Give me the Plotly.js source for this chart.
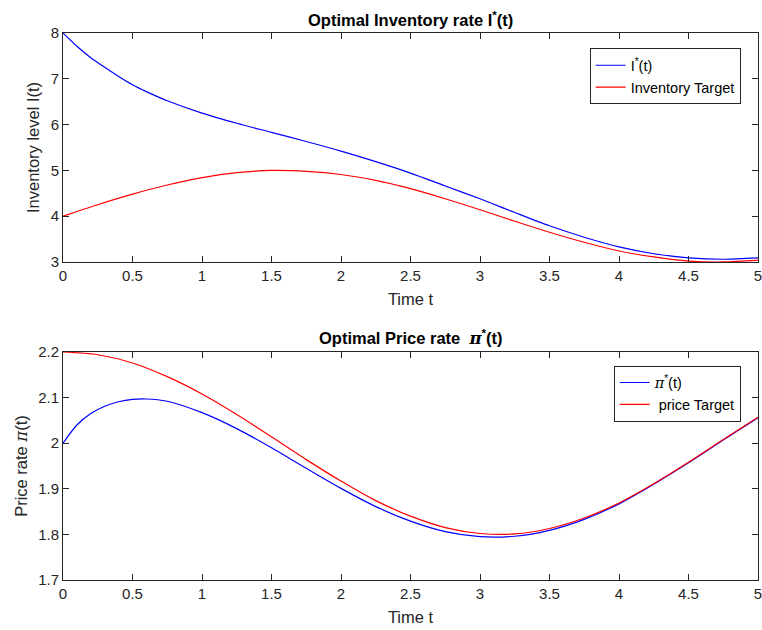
<!DOCTYPE html>
<html>
<head>
<meta charset="utf-8">
<script src="https://cdn.plot.ly/plotly-3.0.1.min.js"></script>
<style>html,body{margin:0;padding:0;background:#fff;}#chart{width:762px;height:630px;}</style>
</head>
<body>
<div id="chart"></div>
<script>
// Top subplot: inventory
const tInv = [0, 0.1, 0.2, 0.3, 0.4, 0.5, 0.6, 0.75, 1.0, 1.25, 1.5, 1.75, 2.0, 2.25, 2.5, 2.75, 3.0, 3.25, 3.5, 3.75, 4.0, 4.25, 4.5, 4.75, 5.0];
const invOptimal = [8.00, 7.71, 7.46, 7.25, 7.05, 6.87, 6.72, 6.52, 6.25, 6.03, 5.83, 5.63, 5.42, 5.19, 4.94, 4.66, 4.38, 4.08, 3.79, 3.54, 3.33, 3.18, 3.09, 3.06, 3.09];
const tInvTarget = [0, 0.25, 0.5, 0.75, 1.0, 1.25, 1.5, 1.75, 2.0, 2.25, 2.5, 2.75, 3.0, 3.25, 3.5, 3.75, 4.0, 4.25, 4.5, 4.75, 5.0];
const invTarget = [4.00, 4.25, 4.48, 4.68, 4.84, 4.95, 5.00, 4.98, 4.91, 4.78, 4.60, 4.38, 4.14, 3.89, 3.65, 3.43, 3.24, 3.11, 3.02, 3.00, 3.04];

// Bottom subplot: price
const tPrice = [0, 0.1, 0.2, 0.3, 0.4, 0.5, 0.6, 0.75, 1.0, 1.25, 1.5, 1.75, 2.0, 2.25, 2.5, 2.75, 3.0, 3.25, 3.5, 3.75, 4.0, 4.25, 4.5, 4.75, 5.0];
const priceOptimal = [2.000, 2.040, 2.065, 2.081, 2.091, 2.096, 2.097, 2.092, 2.067, 2.032, 1.990, 1.945, 1.901, 1.861, 1.829, 1.806, 1.795, 1.796, 1.809, 1.833, 1.867, 1.910, 1.957, 2.007, 2.056];
const tPriceTarget = [0, 0.25, 0.5, 0.75, 1.0, 1.25, 1.5, 1.75, 2.0, 2.25, 2.5, 2.75, 3.0, 3.25, 3.5, 3.75, 4.0, 4.25, 4.5, 4.75, 5.0];
const priceTarget = [2.200, 2.194, 2.176, 2.146, 2.108, 2.063, 2.014, 1.964, 1.917, 1.874, 1.840, 1.815, 1.802, 1.801, 1.813, 1.836, 1.869, 1.911, 1.958, 2.008, 2.057];

const xTicks = [0, 0.5, 1, 1.5, 2, 2.5, 3, 3.5, 4, 4.5, 5];

const FONT = "Liberation Sans, Arial, Helvetica, sans-serif";
const AX = '#262626';
const PI = '<span style="font-family:DejaVu Serif,serif;font-style:italic">π</span>';

const traces = [
  {x: tInv, y: invOptimal, mode: 'lines', line: {color: '#0000ff', width: 1.2, shape: 'spline', smoothing: 0.8}, name: 'I<sup>*</sup>(t)', xaxis: 'x', yaxis: 'y', legend: 'legend'},
  {x: tInvTarget, y: invTarget, mode: 'lines', line: {color: '#ff0000', width: 1.2, shape: 'spline', smoothing: 0.8}, name: 'Inventory Target', xaxis: 'x', yaxis: 'y', legend: 'legend'},
  {x: tPrice, y: priceOptimal, mode: 'lines', line: {color: '#0000ff', width: 1.2, shape: 'spline', smoothing: 0.8}, name: PI + '<sup>*</sup>(t)', xaxis: 'x2', yaxis: 'y2', legend: 'legend2'},
  {x: tPriceTarget, y: priceTarget, mode: 'lines', line: {color: '#ff0000', width: 1.2, shape: 'spline', smoothing: 0.8}, name: ' price Target', xaxis: 'x2', yaxis: 'y2', legend: 'legend2'}
];

function xax(anchor) {
  return {
    anchor: anchor, domain: [0, 1], range: [0, 5], tickvals: xTicks, ticktext: xTicks.map(String),
    ticklabeloverflow: 'allow', automargin: false,
    ticks: 'inside', ticklen: 6, tickcolor: AX, showline: true, linecolor: AX, linewidth: 1, mirror: 'ticks',
    showgrid: false, zeroline: false, tickfont: {size: 15, color: AX, family: FONT},
    title: {text: 'Time t', font: {size: 16.5, color: AX, family: FONT}, standoff: 10}
  };
}
function yax(anchor, dom, range, dtick, title) {
  return {
    anchor: anchor, domain: dom, range: range, dtick: dtick, tick0: range[0],
    ticks: 'inside', ticklen: 6, tickcolor: AX, showline: true, linecolor: AX, linewidth: 1, mirror: 'ticks',
    showgrid: false, zeroline: false, tickfont: {size: 15, color: AX, family: FONT},
    title: {text: title, font: {size: 16.5, color: AX, family: FONT}, standoff: 6}
  };
}

const layout = {
  width: 762, height: 630,
  margin: {l: 63, r: 4, t: 33, b: 50},
  paper_bgcolor: '#ffffff', plot_bgcolor: '#ffffff',
  font: {family: FONT, color: AX},
  showlegend: true,
  xaxis: xax('y'),
  yaxis: yax('x', [0.5814, 1], [3, 8], 1, 'Inventory level I(t)'),
  xaxis2: xax('y2'),
  yaxis2: yax('x2', [0, 0.4168], [1.7, 2.2], 0.1, 'Price rate ' + PI + '(t)'),
  legend: {x: 0.975, y: 0.972, xanchor: 'right', yanchor: 'top', xref: 'paper', yref: 'paper',
    bgcolor: '#ffffff', bordercolor: AX, borderwidth: 1, font: {size: 14.5, color: '#000', family: FONT}, tracegroupgap: 0},
  legend2: {x: 0.975, y: 0.392, xanchor: 'right', yanchor: 'top', xref: 'paper', yref: 'paper',
    bgcolor: '#ffffff', bordercolor: AX, borderwidth: 1, font: {size: 14.5, color: '#000', family: FONT}, tracegroupgap: 0},
  annotations: [
    {text: '<b>Optimal Inventory rate I<sup>*</sup>(t)</b>', xref: 'paper', yref: 'paper', x: 0.5, y: 1, yshift: 2,
      xanchor: 'center', yanchor: 'bottom', showarrow: false, font: {size: 16.5, color: '#000', family: FONT}},
    {text: '<b>Optimal Price rate  ' + PI + '<sup>*</sup>(t)</b>', xref: 'paper', yref: 'paper', x: 0.5, y: 0.4168, yshift: 2,
      xanchor: 'center', yanchor: 'bottom', showarrow: false, font: {size: 16.5, color: '#000', family: FONT}}
  ]
};

Plotly.newPlot('chart', traces, layout, {displayModeBar: false, staticPlot: true});
</script>
</body>
</html>
